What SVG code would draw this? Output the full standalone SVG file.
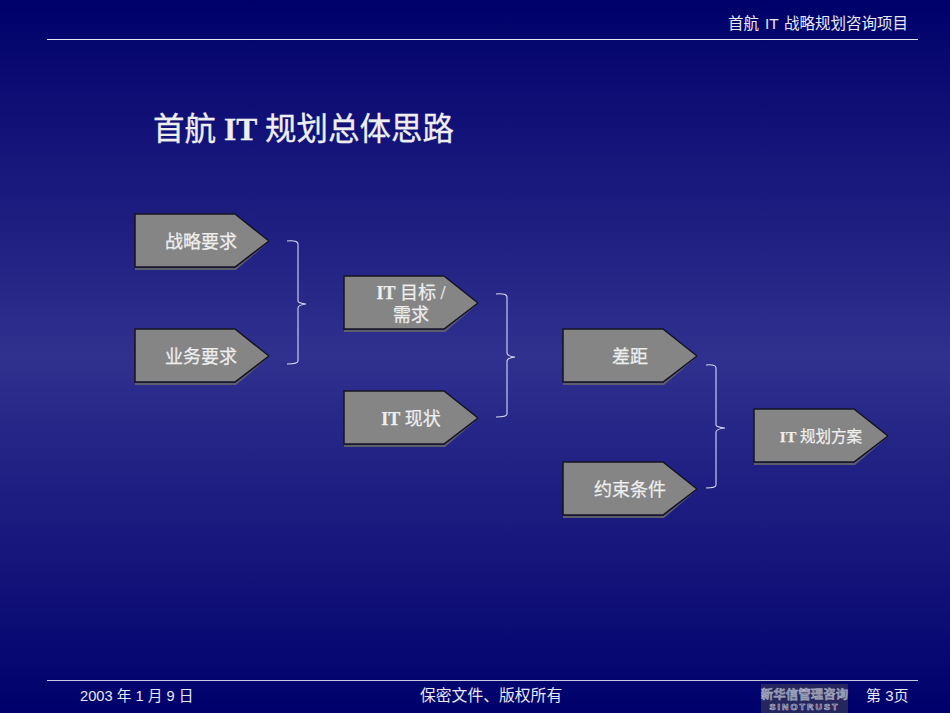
<svg xmlns="http://www.w3.org/2000/svg" width="950" height="713" viewBox="0 0 950 713">
<style>
.s{font-family:"Liberation Serif","Noto Sans CJK SC",serif;fill:#eee;stroke:#eee;stroke-width:.25;text-anchor:middle}
.i{font-weight:bold}
.h{font-family:"Liberation Sans","Noto Sans CJK SC",sans-serif;fill:#e8e8f2;font-size:15.500px}
.b{fill:none;stroke:#d8d8f0;stroke-width:1.100}
.a{fill:#858585}
.e{fill:none;stroke:#141420;stroke-width:1.500}
.d{fill:#5e5e6a}
</style>
<defs>
<linearGradient id="bg" x1="0" y1="0" x2="0" y2="1">
<stop offset="0" stop-color="#00006a"/><stop offset="0.5" stop-color="#30308f"/><stop offset="1" stop-color="#00006c"/>
</linearGradient>
<g id="arrow">
<polygon class="d" points="0,54 100,54 135,27 101,56 0,56"/>
<polygon class="a" points="0,0 100,0 134,27 100,53 0,53"/>
<path class="e" d="M134,27 L100,0 H0 V53 H100 L134,27"/>
</g>
</defs>
<rect width="950" height="713" fill="url(#bg)"/>
<g id="header">
<text class="h" x="728" y="29">首航 <tspan x="765">IT</tspan> <tspan x="784">战略规划咨询项目</tspan></text>
<rect x="47" y="39" width="871" height="1" fill="#e6e6f0"/>
</g>
<text id="title" x="153" y="140" font-family="Liberation Serif,Noto Sans CJK SC,serif" font-size="31.500" fill="#eee" stroke="#eee" stroke-width=".3">首航 <tspan font-weight="bold">IT</tspan> 规划总体思路</text>
<g id="connectors">
<path class="b" d="M287,241 Q298,240 298,244 V301 Q298,303 306,304 Q298,305 298,308 V361 Q298,364 287,364"/>
<path class="b" d="M496,294 Q507,293 507,297 V353 Q507,356 515,357 Q507,358 507,361 V414 Q507,417 496,417"/>
<path class="b" d="M706,365 Q716,364 716,368 V425 Q716,427 725,428 Q716,429 716,432 V485 Q716,488 706,488"/>
</g>
<g id="n1"><use href="#arrow" x="135" y="214"/><text class="s" x="201" y="248" font-size="18">战略要求</text></g>
<g id="n2"><use href="#arrow" x="135" y="329"/><text class="s" x="201" y="363" font-size="18">业务要求</text></g>
<g id="n3"><use href="#arrow" x="344" y="276"/><text class="s" x="411" y="299" font-size="18"><tspan class="i">IT</tspan> 目标 /</text><text class="s" x="411" y="321" font-size="18">需求</text></g>
<g id="n4"><use href="#arrow" x="344" y="391"/><text class="s" x="411" y="425" font-size="18"><tspan class="i">IT</tspan> 现状</text></g>
<g id="n5"><use href="#arrow" x="563" y="329"/><text class="s" x="630" y="363" font-size="18">差距</text></g>
<g id="n6"><use href="#arrow" x="563" y="462"/><text class="s" x="630" y="496" font-size="18">约束条件</text></g>
<g id="n7"><use href="#arrow" x="754" y="409"/><text class="s" x="821" y="442" font-size="15.500"><tspan class="i">IT</tspan> 规划方案</text></g>
<g id="footer">
<rect x="47" y="680" width="871" height="1" fill="#c8c8e0"/>
<text class="h" x="80" y="701" style="font-size:14.700px">2003 年 1 月 9 日</text>
<text class="h" x="420" y="701" style="font-size:15.800px">保密文件、版权所有</text>
<rect x="761" y="684" width="87" height="29" fill="#26265e"/>
<text x="804.500" y="699" text-anchor="middle" font-family="Noto Sans CJK SC,sans-serif" font-size="12.500" font-weight="bold" fill="#8a8ea8" stroke="#c4c8d8" stroke-width=".3">新华信管理咨询</text>
<text x="804.500" y="710" text-anchor="middle" font-family="Liberation Sans,sans-serif" font-size="9" font-weight="bold" fill="#26265e" stroke="#c0c4d4" stroke-width=".6" letter-spacing="2">SINOTRUST</text>
<text class="h" x="866" y="701" style="font-size:15px">第 3页</text>
</g>
</svg>
